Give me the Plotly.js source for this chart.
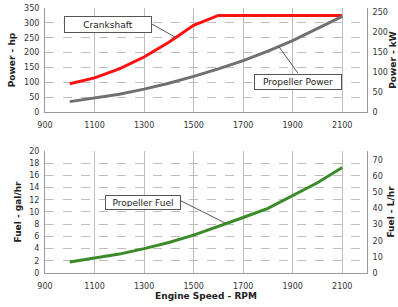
<!DOCTYPE html>
<html><head><meta charset="utf-8">
<script src="https://cdn.plot.ly/plotly-3.0.1.min.js"></script>
<style>html,body{margin:0;padding:0;background:#fff}#c{width:398px;height:307px}</style>
</head><body><div id="c"></div>
<script>
const rpm = [1000,1100,1200,1300,1400,1500,1600,1700,1800,1900,2000,2100];
const crankRpm = [1000,1100,1200,1300,1400,1500,1600,1700,1800,1900,2000,2100];
const crankHp = [95,115,145,185,235,292,325,325,325,325,325,325];
const propHp = [35,47,60,77,97,120,145,173,205,240,280,322];
const fuelGal = [1.8,2.4,3.1,4.0,5.0,6.2,7.6,9.1,10.6,12.7,14.8,17.3];
const HP_TO_KW = 0.7457, GAL_TO_L = 3.785;

const tickFont = {family:'DejaVu Sans, Verdana, sans-serif', size:8, color:'#333'};
const titleFont = {family:'DejaVu Sans, Verdana, sans-serif', size:9, color:'#222', weight:'bold'};
const boxFont = {family:'DejaVu Sans, Verdana, sans-serif', size:9, color:'#222'};
const grid = '#bdbdbd';

const traces = [
 {x:crankRpm, y:crankHp, mode:'lines', line:{color:'#ff1010', width:3}, xaxis:'x', yaxis:'y', hoverinfo:'skip'},
 {x:rpm, y:propHp, mode:'lines', line:{color:'#707070', width:3}, xaxis:'x', yaxis:'y', hoverinfo:'skip'},
 {x:rpm, y:propHp.map(v=>v*HP_TO_KW), mode:'lines', line:{width:0}, opacity:0, xaxis:'x', yaxis:'y2', hoverinfo:'skip'},
 {x:rpm, y:fuelGal, mode:'lines', line:{color:'#3a8a28', width:3}, xaxis:'x2', yaxis:'y3', hoverinfo:'skip'},
 {x:rpm, y:fuelGal.map(v=>v*GAL_TO_L), mode:'lines', line:{width:0}, opacity:0, xaxis:'x2', yaxis:'y4', hoverinfo:'skip'}
];

const xbase = {range:[900,2200], tick0:900, dtick:200, showgrid:true, gridcolor:grid, gridwidth:1,
  showline:true, linecolor:'#999', mirror:false, ticks:'', ticklabelstandoff:5, tickfont:tickFont, zeroline:false, fixedrange:true};
const layout = {
 width:398, height:307, margin:{l:45, r:31, t:8, b:34},
 paper_bgcolor:'#fff', plot_bgcolor:'#fff', showlegend:false,
 xaxis: Object.assign({}, xbase, {anchor:'y'}),
 xaxis2: Object.assign({}, xbase, {anchor:'y3', title:{text:'Engine Speed - RPM', font:titleFont, standoff:2}}),
 yaxis: {domain:[0.6075,1], range:[0,350], dtick:50, showgrid:true, gridcolor:grid, griddash:'dash',
   showline:true, linecolor:'#999', ticks:'', ticklabelstandoff:3, tickfont:tickFont, zeroline:false,
   title:{text:'Power - hp', font:titleFont, standoff:6}},
 yaxis2: {overlaying:'y', side:'right', anchor:'x', range:[0,350*HP_TO_KW], dtick:50, showgrid:false,
   showline:true, linecolor:'#999', ticks:'', ticklabelstandoff:3, tickfont:tickFont, zeroline:false,
   title:{text:'Power - kW', font:titleFont, standoff:5}},
 yaxis3: {domain:[0,0.4604], anchor:'x2', range:[0,20], dtick:2, showgrid:true, gridcolor:grid, griddash:'dash',
   showline:true, linecolor:'#999', ticks:'', ticklabelstandoff:3, tickfont:tickFont, zeroline:false,
   title:{text:'Fuel - gal/hr', font:titleFont, standoff:6}},
 yaxis4: {overlaying:'y3', side:'right', anchor:'x2', range:[0,20*GAL_TO_L], dtick:10, showgrid:false,
   showline:true, linecolor:'#999', ticks:'', ticklabelstandoff:3, tickfont:tickFont, zeroline:false,
   title:{text:'Fuel - L/hr', font:titleFont, standoff:5}},
 annotations: [
  {xref:'x', yref:'y', x:1156, y:293, text:'Crankshaft', showarrow:false, bgcolor:'#fff', bordercolor:'#555', borderwidth:1,
   borderpad:2, width:82, height:11, font:boxFont},
  {xref:'x', yref:'y', x:1923, y:101, text:'Propeller Power', showarrow:false, bgcolor:'#fff', bordercolor:'#555', borderwidth:1,
   borderpad:2, width:82, height:10, font:boxFont},
  {xref:'x2', yref:'y3', x:1296, y:11.56, text:'Propeller Fuel', showarrow:false, bgcolor:'#fff', bordercolor:'#555', borderwidth:1,
   borderpad:2, width:70, height:9, font:boxFont}
 ],
 shapes: [
  {type:'line', xref:'x', yref:'y', x0:1332, y0:296, x1:1425, y1:252, line:{color:'#555', width:1}},
  {type:'line', xref:'x', yref:'y', x0:1845, y0:219, x1:1921, y1:131, line:{color:'#555', width:1}},
  {type:'line', xref:'x2', yref:'y3', x0:1445, y0:11.9, x1:1627, y1:8.2, line:{color:'#555', width:1}}
 ]
};
Plotly.newPlot('c', traces, layout, {staticPlot:true, displayModeBar:false});
</script></body></html>
